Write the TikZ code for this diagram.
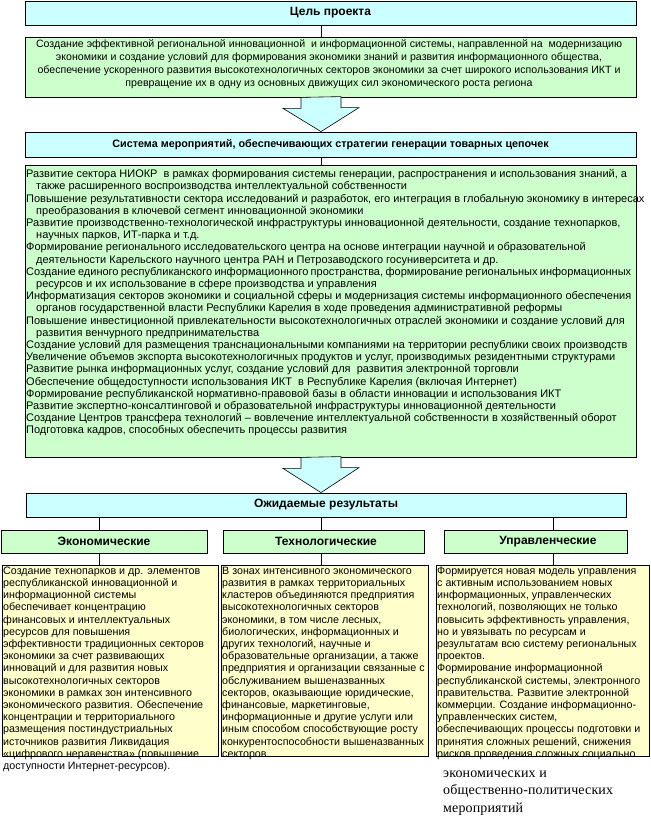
\documentclass[tikz,border=0pt]{standalone}
\usepackage{fontspec}
\setmainfont{Liberation Sans}
\newfontfamily\serifru{Liberation Serif}[LetterSpace=1]
\definecolor{cyanbox}{HTML}{CCFFFF}
\definecolor{greenbox}{HTML}{CCFFCC}
\definecolor{yellowbox}{HTML}{FFFFCC}
\tikzset{
  boxline/.style={draw=black, line width=0.8pt},
  cbox/.style={boxline, fill=cyanbox, inner sep=0pt, font=\fontsize{12}{13}\selectfont\bfseries},
  gbox/.style={boxline, fill=greenbox, inner sep=0pt},
  ybox/.style={boxline, fill=yellowbox, inner sep=0pt},
  titletext/.style={inner sep=0pt, font=\fontsize{12}{13}\selectfont\bfseries},
  bodytext/.style={inner sep=0pt, align=left, anchor=north west, font=\fontsize{11}{12.2}\selectfont},
  ytext/.style={inner sep=0pt, align=left, anchor=north west, font=\fontsize{10.7}{12.2}\selectfont},
  conn/.style={draw=black, line width=0.8pt},
  bigarrow/.style={draw=black, line width=0.6pt, fill=cyanbox}
}
\begin{document}
\begin{tikzpicture}[x=1pt,y=-1pt]
\useasboundingbox (0,0) rectangle (650,818);
\coordinate (col) at (321,0);

% top boxes
\node[cbox, minimum width=611pt, minimum height=24pt] (title) at (330.5,13) {Цель проекта};
\node[gbox, minimum width=611pt, minimum height=60pt] (goal) at (330.5,67) {};
\node[inner sep=0pt, align=center, anchor=north, font=\fontsize{10.6}{13}\selectfont] (goaltext) at (329,37.9)
{\strut Создание эффективной региональной инновационной \ и информационной системы, направленной на \ модернизацию\\
экономики и создание условий для формирования экономики знаний и развития информационного общества,\\
обеспечение ускоренного развития высокотехнологичных секторов экономики за счет широкого использования ИКТ и\\
превращение их в одну из основных движущих сил экономического роста региона};

\node[cbox, minimum width=611pt, minimum height=25pt, font=\fontsize{10.8}{13}\selectfont\bfseries] (sys) at (330.5,144.5) {Система мероприятий, обеспечивающих стратегии генерации товарных цепочек};

\node[gbox, minimum width=611pt, minimum height=292pt] (list) at (330.5,311) {};
\node[bodytext] (listtext) at (26,169)
{\strut Развитие сектора НИОКР \ в рамках формирования системы генерации, распространения и использования знаний, а\\
\hspace*{10pt}также расширенного воспроизводства интеллектуальной собственности\\
Повышение результативности сектора исследований и разработок, его интеграция в глобальную экономику в интересах\\
\hspace*{10pt}преобразования в ключевой сегмент инновационной экономики\\
Развитие производственно-технологической инфраструктуры инновационной деятельности, создание технопарков,\\
\hspace*{10pt}научных парков, ИТ-парка и т.д.\\
Формирование регионального исследовательского центра на основе интеграции научной и образовательной\\
\hspace*{10pt}деятельности Карельского научного центра РАН и Петрозаводского госуниверситета и др.\\
\makebox[605pt][s]{Создание единого республиканского информационного пространства, формирование региональных информационных}\\
\hspace*{10pt}ресурсов и их использование в сфере производства и управления\\
\makebox[605pt][s]{Информатизация секторов экономики и социальной сферы и модернизация системы информационного обеспечения}\\
\hspace*{10pt}органов государственной власти Республики Карелия в ходе проведения административной реформы\\
Повышение инвестиционной привлекательности высокотехнологичных отраслей экономики и создание условий для\\
\hspace*{10pt}развития венчурного предпринимательства\\
Создание условий для размещения транснациональными компаниями на территории республики своих производств\\
Увеличение объемов экспорта высокотехнологичных продуктов и услуг, производимых резидентными структурами\\
Развитие рынка информационных услуг, создание условий для \ развития электронной торговли\\
Обеспечение общедоступности использования ИКТ \ в Республике Карелия (включая Интернет)\\
Формирование республиканской нормативно-правовой базы в области инновации и использования ИКТ\\
Развитие экспертно-консалтинговой и образовательной инфраструктуры инновационной деятельности\\
Создание Центров трансфера технологий – вовлечение интеллектуальной собственности в хозяйственный оборот\\
Подготовка кадров, способных обеспечить процессы развития};

\node[cbox, minimum width=600pt, minimum height=24pt] (res) at (326,505) {Ожидаемые результаты};

\node[gbox, minimum width=206pt, minimum height=23pt] (eco) at (104,541.5) {};
\node[gbox, minimum width=201pt, minimum height=23pt] (tech) at (323.5,541.5) {};
\node[gbox, minimum width=183pt, minimum height=23pt] (man) at (535.5,541.5) {};
\node[titletext] (ecot) at (104,541.5) {Экономические};
\node[titletext] (techt) at (326,541.5) {Технологические};
\node[titletext] (mant) at (548,541.5) {Управленческие};

\node[ybox, minimum width=216pt, minimum height=191pt] (ecoy) at (110,660.5) {};
\node[ybox, minimum width=207pt, minimum height=191pt] (techy) at (324.5,660.5) {};
\node[ybox, minimum width=213pt, minimum height=191pt] (many) at (542.5,660.5) {};

% connectors
\draw[conn] (res.south -| 99,0) -- (eco.north -| 99,0);
\draw[conn] (title.south -| col) -- (goal.north -| col);
\draw[conn] (sys.south -| col) -- (list.north -| col);
\draw[conn] (res.south -| col) -- (tech.north -| col);
\draw[conn] (res.south -| 553,0) -- (man.north -| 553,0);
\draw[conn] (eco.south -| 99,0) -- (ecoy.north -| 99,0);
\draw[conn] (tech.south -| col) -- (techy.north -| col);
\draw[conn] (man.south -| 553,0) -- (many.north -| 553,0);

% block arrows
\coordinate (a1) at (goal.south -| col);
\draw[bigarrow] (a1) ++(-20,0) -- ++(0,11) -- ++(-18,0) -- (sys.north -| col) -- ++(38,-24) -- ++(-18,0) -- ++(0,-11) -- cycle;
\coordinate (a2) at (list.south -| col);
\draw[bigarrow] (a2) ++(-20,0) -- ++(0,11) -- ++(-18,0) -- (res.north -| col) -- ++(38,-25) -- ++(-18,0) -- ++(0,-11) -- cycle;

% yellow texts
\node[ytext] (ecotext) at (3,565.5)
{\strut Создание технопарков и др. элементов\\
республиканской инновационной и\\
информационной системы\\
обеспечивает концентрацию\\
финансовых и интеллектуальных\\
ресурсов для повышения\\
эффективности традиционных секторов\\
экономики за счет развивающих\\
инноваций и для развития новых\\
высокотехнологичных секторов\\
экономики в рамках зон интенсивного\\
экономического развития. Обеспечение\\
концентрации и территориального\\
размещения постиндустриальных\\
источников развития Ликвидация\\
«цифрового неравенства» (повышение\\
доступности Интернет-ресурсов).};

\node[ytext] (techtext) at (222,565.5)
{\strut В зонах интенсивного экономического\\
развития в рамках территориальных\\
кластеров объединяются предприятия\\
высокотехнологичных секторов\\
экономики, в том числе лесных,\\
биологических, информационных и\\
других технологий, научные и\\
образовательные организации, а также\\
предприятия и организации связанные с\\
обслуживанием вышеназванных\\
секторов, оказывающие юридические,\\
финансовые, маркетинговые,\\
информационные и другие услуги или\\
иным способом способствующие росту\\
конкурентоспособности вышеназванных\\
секторов.};

\node[ytext] (mantext) at (437,565.5)
{\strut Формируется новая модель управления\\
с активным использованием новых\\
информационных, управленческих\\
технологий, позволяющих не только\\
повысить эффективность управления,\\
но и увязывать по ресурсам и\\
результатам всю систему региональных\\
проектов.\\
Формирование информационной\\
республиканской системы, электронного\\
правительства. Развитие электронной\\
коммерции. Создание информационно-\\
управленческих систем,\\
обеспечивающих процессы подготовки и\\
принятия сложных решений, снижения\\
рисков проведения сложных социально};

\node[inner sep=0pt, align=left, anchor=north west, font=\fontsize{14}{17.5}\serifru] (mantext2) at (443,765)
{\strut экономических и\\
общественно-политических\\
мероприятий};
\end{tikzpicture}
\end{document}
